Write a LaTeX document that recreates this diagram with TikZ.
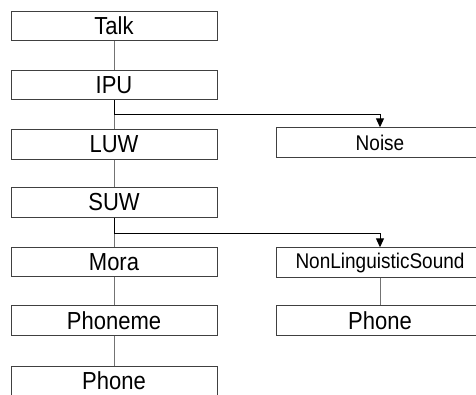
\documentclass[tikz,border=0pt]{standalone}
\usepackage{fontspec}
\usepackage{graphicx}
\setmainfont{Liberation Sans}
\usetikzlibrary{arrows.meta}
\newcommand{\tall}[1]{\scalebox{1}[1.12]{#1}}
\begin{document}
\begin{tikzpicture}[x=1pt,y=-1pt,
  box/.style={draw=black!75, line width=0.9pt, minimum width=206pt, minimum height=29.5pt, inner sep=0pt, fill=white, font=\fontsize{22}{22}\selectfont},
  rbox/.style={box, minimum width=208pt},
  smalltext/.style={font=\fontsize{19}{19}\selectfont},
  vline/.style={draw=black!55, line width=1pt},
  hline/.style={draw=black, line width=1pt},
  arr/.style={hline, -{Triangle[width=8pt,length=9pt]}}]
\useasboundingbox (0,0) rectangle (476,394);
\node[box] (talk) at (114,26) {\tall{Talk}};
\node[box] (ipu) at (114,85) {\tall{IPU}};
\node[box] (luw) at (114,144.5) {\tall{LUW}};
\node[box] (suw) at (114,202.5) {\tall{SUW}};
\node[box] (mora) at (114,262) {\tall{Mora}};
\node[box] (phoneme) at (114,320.5) {\tall{Phoneme}};
\node[box] (phone) at (114,381) {\tall{Phone}};
\node[rbox, smalltext] (noise) at (380,142.5) {\tall{Noise}};
\node[rbox, smalltext] (nls) at (380,262.5) {\tall{NonLinguisticSound}};
\node[rbox] (rphone) at (380,320.5) {\tall{Phone}};
\coordinate (j1) at (114,114);
\coordinate (j2) at (114,233);
\draw[vline] (talk.south) -- (ipu.north);
\draw[vline] (j1) -- (luw.north);
\draw[hline] (ipu.south) -- (j1);
\draw[vline] (luw.south) -- (suw.north);
\draw[vline] (j2) -- (mora.north);
\draw[hline] (suw.south) -- (j2);
\draw[vline] (mora.south) -- (phoneme.north);
\draw[vline] (phoneme.south) -- (phone.north);
\draw[vline] (nls.south) -- (rphone.north);
\draw[arr] (j1) -| (noise.north);
\draw[arr] (j2) -| (nls.north);
\end{tikzpicture}
\end{document}
